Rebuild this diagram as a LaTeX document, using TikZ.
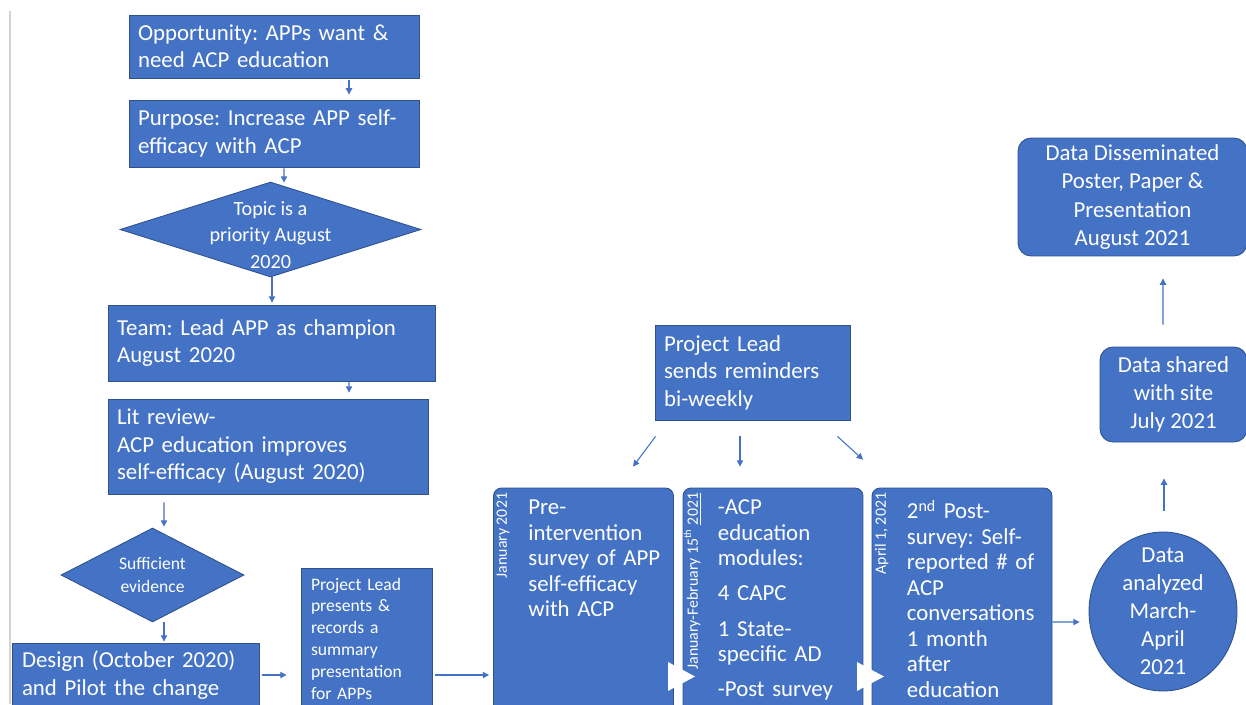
\documentclass[tikz,border=0pt]{standalone}
\usepackage{fontspec}
\setmainfont{Carlito}
\usetikzlibrary{arrows.meta,positioning,shapes.geometric,calc}
\definecolor{boxblue}{HTML}{4472C4}
\definecolor{edgeblue}{HTML}{2F528F}
\definecolor{rulegray}{HTML}{D4D4D4}
\newcommand{\bigtxt}{\fontsize{13}{15.6}\selectfont}
\frenchspacing

\begin{document}
\begin{tikzpicture}[x=0.02cm,y=-0.02cm,
  box/.style={rectangle,fill=boxblue,draw=edgeblue,line width=0.5pt,text=white,
    font=\bigtxt,align=left,inner xsep=1.8mm,inner ysep=0pt},
  rbox/.style={rectangle,rounded corners=2.6mm,fill=boxblue,draw=edgeblue,line width=0.5pt,
    text=white,font=\fontsize{13}{16}\selectfont,align=center,inner sep=0pt},
  decision/.style={diamond,fill=boxblue,draw=edgeblue,line width=0.5pt,inner sep=0pt},
  datebox/.style={rectangle,rounded corners=1.6mm,fill=boxblue,draw=edgeblue,line width=0.5pt,
    minimum width=36mm,minimum height=46.4mm},
  intxt/.style={text=white,align=center,inner sep=0pt},
  datetxt/.style={text=white,font=\fontsize{9}{11}\selectfont,rotate=90,anchor=east,inner sep=0pt},
  steptxt/.style={text=white,font=\fontsize{13}{14.5}\selectfont,align=left,anchor=north west,
    text width=30mm,inner sep=0pt},
  arr/.style={draw=boxblue,line width=0.6pt,-{Triangle[length=3.6pt,width=3.6pt]}}]
  \path[use as bounding box] (0,0) rectangle (1246,704);
  \clip (0,0) rectangle (1246,704);

  \draw[rulegray,line width=1.1pt] (10,11) -- (10,704);

  % left column
  \node[box,text width=54.4mm,minimum height=12.6mm] (opp) at (274,46.5)
    {Opportunity: APPs want \&\\need ACP education};
  \node[box,text width=54.4mm,minimum height=13.4mm] (purp) at (274,133.5)
    {Purpose: Increase APP self-\\efficacy with ACP};
  \node[decision,minimum width=60.2mm,minimum height=19mm] (topic) at (270.5,229.5) {};
  \node[intxt,font=\fontsize{11.5}{15}\selectfont] (topictxt) at ($(topic.center)+(0,5.5)$)
    {Topic is a\\priority August\\2020};
  \node[box,text width=61.8mm,minimum height=15.2mm] (team) at (271.5,343)
    {Team: Lead APP as champion\\August 2020};
  \node[box,text width=60.4mm,minimum height=19mm] (lit) at (268,446.5)
    {Lit review-\\ACP education improves\\self-efficacy (August 2020)};
  \node[decision,minimum width=36.6mm,minimum height=18.8mm] (suff) at (152.5,575) {};
  \node[intxt,font=\fontsize{10}{13}\selectfont] (sufftxt) at (suff.center) {Sufficient\\evidence};
  \node[box,inner xsep=2mm,text width=45.4mm,minimum height=12.8mm] (design) at (135.5,675)
    {Design (October 2020)\\and Pilot the change};
  \node[box,inner xsep=2mm,text width=22.2mm,minimum height=28.2mm,
    font=\fontsize{10}{12.4}\selectfont] (pres) at (366.5,638.5)
    {Project Lead\\presents \&\\records a\\summary\\presentation\\for APPs};

  % the three dated steps
  \node[datebox] (pre) at (583.5,604) {};
  \node[datebox] (acp) at (773,604) {};
  \node[datebox] (post) at (962,604) {};
  \node[datetxt] (prewhen) at ($(pre.north west)+(10,5)$) {January 2021};
  \node[datetxt] (acpwhen) at ($(acp.north west)+(10,5)$)
    {January-February 15\textsuperscript{th} \underline{2021}};
  \node[datetxt] (postwhen) at ($(post.north west)+(10,5)$) {April 1, 2021};
  \node[steptxt] (pretxt) at ($(pre.north west)+(35,12)$)
    {Pre-\\intervention\\survey of APP\\self-efficacy\\with ACP};
  \node[steptxt] (acptxt) at ($(acp.north west)+(35,12)$)
    {-ACP\\education\\modules:\\[5.5pt]4 CAPC\\[5.5pt]1 State-\\specific AD\\[5.5pt]-Post survey};
  \node[steptxt] (posttxt) at ($(post.north west)+(35,12)$)
    {2\textsuperscript{nd} Post-\\survey: Self-\\reported \# of\\ACP\\conversations\\1 month\\after\\education};
  \fill[white] (668,662) -- (695,676.5) -- (668,691) -- cycle;
  \fill[white] (857,662) -- (884,676.5) -- (857,691) -- cycle;

  \node[box,text width=35.4mm,minimum height=19mm] (rem) at (752.5,372.5)
    {Project Lead\\sends reminders\\bi-weekly};

  % right column
  \node[ellipse,fill=boxblue,draw=edgeblue,line width=0.5pt,minimum width=29.6mm,
    minimum height=31.8mm,inner sep=0pt] (ana) at (1163,611.5) {};
  \node[intxt,font=\fontsize{13}{16}\selectfont] (anatxt) at (ana.center)
    {Data\\analyzed\\March-\\April\\2021};
  \node[rbox,minimum width=29.4mm,minimum height=19mm] (shared) at (1173.5,394.5)
    {Data shared\\with site\\July 2021};
  \node[rbox,minimum width=45.8mm,minimum height=23.6mm] (diss) at (1132.5,197)
    {Data Disseminated\\Poster, Paper \&\\Presentation\\August 2021};

  % connectors
  \draw[arr] ($(opp.south)+(75,2)$) -- ($(purp.north)+(75,-5)$);
  \draw[arr] ($(purp.south)+(10,1)$) -- ($(topic.north)+(13.5,1)$);
  \draw[arr] ($(topic.south)+(1.5,0)$) -- ($(team.north)+(0.5,-2)$);
  \draw[arr] ($(team.south)+(77.5,0)$) -- ($(lit.north)+(81,-6)$);
  \draw[arr] ($(lit.south)+(-104,8)$) -- ($(suff.north)+(11.5,-1)$);
  \draw[arr] ($(suff.south)+(11.5,0)$) -- ($(design.north)+(28.5,-1)$);
  \draw[arr] ($(design.east)+(3,0)$) -- ($(pres.west |- design.east)+(-14,0)$);
  \draw[arr] ($(pres.east |- design.east)+(3,0)$) -- ($(pre.west |- design.east)+(-4,0)$);
  \draw[arr] ($(rem.south west)+(1,16)$) -- ($(pre.north)+(49.5,-21)$);
  \draw[arr] ($(rem.south)+(-12.5,16)$) -- ($(acp.north)+(-33,-21)$);
  \draw[arr] ($(rem.south east)+(-13,16)$) -- ($(post.north)+(-99,-28)$);
  \draw[arr] ($(post.east)+(0,18)$) -- ($(ana.west)+(-9,10.5)$);
  \draw[arr] ($(ana.north)+(1,-21)$) -- ($(shared.south)+(-9.5,36)$);
  \draw[arr] ($(shared.north)+(-10.5,-22)$) -- ($(diss.south)+(30.5,22)$);
\end{tikzpicture}
\end{document}
